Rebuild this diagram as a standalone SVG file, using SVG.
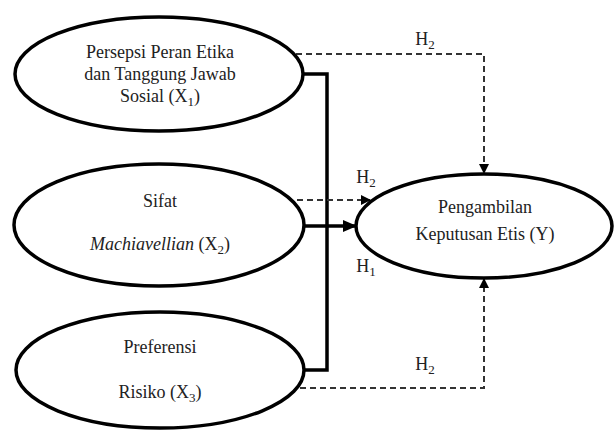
<svg xmlns="http://www.w3.org/2000/svg" width="616" height="431" viewBox="0 0 616 431">
<style>
.node{fill:#fff;stroke:#000;stroke-width:3.5}
.t{font-family:"Liberation Serif","Times New Roman",serif;font-size:18px;fill:#222;text-anchor:middle}
.solid{fill:none;stroke:#000;stroke-width:3.5}
.dash{fill:none;stroke:#333;stroke-width:2;stroke-dasharray:6 4}
.sub{font-size:13px}
</style>
<defs>
<marker id="ah" markerWidth="10" markerHeight="10" refX="9" refY="5" orient="auto" markerUnits="userSpaceOnUse">
<path d="M0,0 L10,5 L0,10 z" fill="#000"/>
</marker>
<marker id="ahs" markerWidth="14" markerHeight="12" refX="13" refY="6" orient="auto" markerUnits="userSpaceOnUse">
<path d="M0,0 L14,6 L0,12 z" fill="#000"/>
</marker>
</defs>
<rect width="616" height="431" fill="#fff"/>
<g id="connectors">
<path class="solid" d="M302,74 H327 V370 H303"/>
<path class="solid" d="M304,226 H356" marker-end="url(#ahs)"/>
<path class="dash" d="M296,54 H484 V173" marker-end="url(#ah)"/>
<path class="dash" d="M297,200 H370" marker-end="url(#ah)"/>
<path class="dash" d="M300,388 H484 V279" marker-end="url(#ah)"/>
<text class="t" x="425" y="45">H<tspan class="sub" dy="4">2</tspan></text>
<text class="t" x="366" y="183">H<tspan class="sub" dy="4">2</tspan></text>
<text class="t" x="366" y="272">H<tspan class="sub" dy="4">1</tspan></text>
<text class="t" x="425" y="370">H<tspan class="sub" dy="4">2</tspan></text>
</g>
<g id="x1">
<ellipse class="node" cx="159" cy="74" rx="144" ry="57"/>
<text class="t" x="160" y="58">Persepsi Peran Etika</text>
<text class="t" x="160" y="80">dan Tanggung Jawab</text>
<text class="t" x="160" y="102">Sosial (X<tspan class="sub" dy="4">1</tspan><tspan dy="-4">)</tspan></text>
</g>
<g id="x2">
<ellipse class="node" cx="159" cy="225" rx="145" ry="61"/>
<text class="t" x="160" y="207">Sifat</text>
<text class="t" x="160" y="250"><tspan font-style="italic">Machiavellian</tspan> (X<tspan class="sub" dy="4">2</tspan><tspan dy="-4">)</tspan></text>
</g>
<g id="x3">
<ellipse class="node" cx="160" cy="370" rx="144" ry="58"/>
<text class="t" x="160" y="353">Preferensi</text>
<text class="t" x="160" y="398">Risiko (X<tspan class="sub" dy="4">3</tspan><tspan dy="-4">)</tspan></text>
</g>
<g id="y">
<ellipse class="node" cx="484" cy="226" rx="128" ry="52"/>
<text class="t" x="485" y="213">Pengambilan</text>
<text class="t" x="485" y="240">Keputusan Etis (Y)</text>
</g>
</svg>
